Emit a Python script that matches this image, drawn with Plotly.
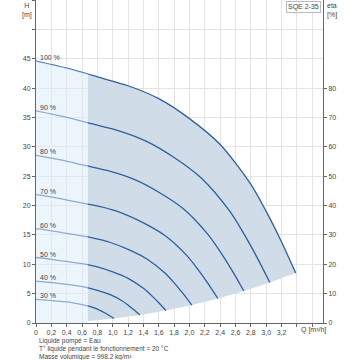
import plotly.graph_objects as go

# ---------------- data ----------------
speeds = ["100 %", "90 %", "80 %", "70 %", "60 %", "50 %", "40 %", "30 %"]

q100 = [0, 0.4, 0.675, 0.8, 1.2, 1.6, 2.0, 2.4, 2.8, 3.0, 3.2, 3.385]
h100 = [44.6, 43.4, 42.4, 41.9, 40.4, 38.2, 34.8, 30.4, 23.6, 19.0, 13.8, 8.5]

q90 = [0, 0.36, 0.72, 1.08, 1.44, 1.8, 2.16, 2.52, 2.7, 2.88, 3.047]
h90 = [36.13, 35.15, 33.94, 32.72, 30.94, 28.19, 24.62, 19.12, 15.39, 11.18, 6.89]

q80 = [0, 0.32, 0.64, 0.96, 1.28, 1.6, 1.92, 2.24, 2.4, 2.56, 2.708]
h80 = [28.54, 27.78, 26.82, 25.86, 24.45, 22.27, 19.46, 15.10, 12.16, 8.83, 5.44]

q70 = [0, 0.28, 0.56, 0.84, 1.12, 1.4, 1.68, 1.96, 2.1, 2.24, 2.370]
h70 = [21.85, 21.27, 20.53, 19.80, 18.72, 17.05, 14.90, 11.56, 9.31, 6.76, 4.17]

q60 = [0, 0.24, 0.48, 0.72, 0.96, 1.2, 1.44, 1.68, 1.8, 1.92, 2.031]
h60 = [16.06, 15.62, 15.08, 14.54, 13.75, 12.53, 10.94, 8.50, 6.84, 4.97, 3.06]

q50 = [0, 0.2, 0.4, 0.6, 0.8, 1.0, 1.2, 1.4, 1.5, 1.6, 1.693]
h50 = [11.15, 10.85, 10.48, 10.10, 9.55, 8.70, 7.60, 5.90, 4.75, 3.45, 2.13]

q40 = [0, 0.16, 0.32, 0.48, 0.64, 0.8, 0.96, 1.12, 1.2, 1.28, 1.354]
h40 = [7.14, 6.94, 6.70, 6.46, 6.11, 5.57, 4.86, 3.78, 3.04, 2.21, 1.36]

q30 = [0, 0.12, 0.24, 0.36, 0.48, 0.6, 0.72, 0.84, 0.9, 0.96, 1.016]
h30 = [4.01, 3.91, 3.77, 3.63, 3.44, 3.13, 2.74, 2.12, 1.71, 1.24, 0.77]

# lower limit of the operating range
q_low = [0.675, 1.016, 1.354, 1.693, 2.031, 2.370, 2.708, 3.047, 3.385]
h_low = [0.34, 0.77, 1.36, 2.13, 3.06, 4.17, 5.44, 6.89, 8.5]

q_split = 0.675  # end of light (low-flow) zone

x_ticks = [0, 0.2, 0.4, 0.6, 0.8, 1.0, 1.2, 1.4, 1.6, 1.8, 2.0, 2.2, 2.4, 2.6, 2.8, 3.0, 3.2, 3.4, 3.6]
x_ticktext = ["0", "0,2", "0,4", "0,6", "0,8", "1,0", "1,2", "1,4", "1,6", "1,8", "2,0",
              "2,2", "2,4", "2,6", "2,8", "3,0", "3,2", "", ""]
h_ticks = [0, 5, 10, 15, 20, 25, 30, 35, 40, 45, 50, 55]
h_ticktext = ["0", "5", "10", "15", "20", "25", "30", "35", "40", "45", "", ""]
eta_ticks = [0, 10, 20, 30, 40, 50, 60, 70, 80]

notes = ["Liquide pompé = Eau",
         "T° liquide pendant le fonctionnement = 20 °C",
         "Masse volumique = 998.2 kg/m³"]

curves = [(q100, h100), (q90, h90), (q80, h80), (q70, h70),
          (q60, h60), (q50, h50), (q40, h40), (q30, h30)]

# ---------------- figure ----------------
LINE = "#2f5f9e"
FONT = "Liberation Sans, Arial, sans-serif"
fig = go.Figure()

# dark operating area
top_q = [q for q in q100 if q >= q_split]
top_h = [h for q, h in zip(q100, h100) if q >= q_split]
poly_q = top_q + q_low[::-1]
poly_h = top_h + h_low[::-1]
fig.add_trace(go.Scatter(x=poly_q, y=poly_h, fill="toself", mode="lines",
                         line=dict(width=0, shape="spline", smoothing=0.8),
                         fillcolor="rgb(208,220,232)", hoverinfo="skip", showlegend=False))

for (q, h) in curves:
    fig.add_trace(go.Scatter(x=q, y=h, mode="lines",
                             line=dict(color=LINE, width=1.3, shape="spline", smoothing=0.8),
                             showlegend=False, hoverinfo="skip"))

# invisible trace for the right axis
fig.add_trace(go.Scatter(x=[0], y=[0], yaxis="y2", mode="markers",
                         marker=dict(opacity=0), showlegend=False, hoverinfo="skip"))

# light low-flow zone (drawn above so the curves look paler inside it)
light_q = [q for q in q100 if q <= q_split]
light_h = [h for q, h in zip(q100, h100) if q <= q_split]
path = "M 0,0 " + " ".join(f"L {q},{h}" for q, h in zip(light_q, light_h)) + f" L {q_split},0 Z"
fig.add_shape(type="path", path=path, xref="x", yref="y", layer="above",
              fillcolor="rgba(221,235,249,0.55)", line=dict(width=0))

# curve labels
for name, (q, h) in zip(speeds, curves):
    fig.add_annotation(x=0.02, y=h[0], text=name, xref="x", yref="y", showarrow=False,
                       xanchor="left", yanchor="bottom", yshift=-2,
                       font=dict(size=7, color="#444", family=FONT))

# axis titles
fig.add_annotation(x=0, y=1, xref="paper", yref="paper", text="H<br>[m]", showarrow=False,
                   xanchor="right", yanchor="top", xshift=-2, align="center",
                   font=dict(size=7, color="#444", family=FONT))
fig.add_annotation(x=1, y=1, xref="paper", yref="paper", text="eta<br>[%]", showarrow=False,
                   xanchor="left", yanchor="top", xshift=2, align="left",
                   font=dict(size=7, color="#444", family=FONT))
fig.add_annotation(x=3.43, y=0, xref="x", yref="paper", text="Q [m³/h]", showarrow=False,
                   xanchor="left", yanchor="top", yshift=-1,
                   font=dict(size=7, color="#444", family=FONT))
fig.add_annotation(x=1, y=1, xref="paper", yref="paper", text="SQE 2-35", showarrow=False,
                   xanchor="right", yanchor="top", xshift=-2, yshift=-1,
                   bgcolor="white", bordercolor="#bbb", borderwidth=1, borderpad=1,
                   font=dict(size=7, color="#444", family=FONT))
for i, t in enumerate(notes):
    fig.add_annotation(x=0, y=0, xref="paper", yref="paper", text=t, showarrow=False,
                       xanchor="left", yanchor="top", xshift=1, yshift=-12 - 8 * i,
                       font=dict(size=6.5, color="#444", family=FONT))

axis_common = dict(showline=True, linecolor="#666", linewidth=1, ticks="outside",
                   ticklen=3, tickcolor="#666", tickfont=dict(size=7, color="#444", family=FONT),
                   zeroline=False, automargin=False)
fig.update_layout(
    width=360, height=360,
    margin=dict(l=36, r=37, t=0, b=37, autoexpand=False),
    plot_bgcolor="white", paper_bgcolor="white",
    xaxis=dict(range=[0, 3.74], tickvals=x_ticks, ticktext=x_ticktext,
               showgrid=True, gridcolor="#e4e4e4", gridwidth=1, **axis_common),
    yaxis=dict(range=[0, 55], tickvals=h_ticks, ticktext=h_ticktext,
               showgrid=True, gridcolor="#e4e4e4", gridwidth=1, **axis_common),
    yaxis2=dict(range=[0, 110], tickvals=eta_ticks, overlaying="y", side="right",
                showgrid=False, **axis_common),
)

fig.write_html("out.html", config={"displayModeBar": False},
               post_script="document.body.style.margin='0';document.body.style.padding='0';")
